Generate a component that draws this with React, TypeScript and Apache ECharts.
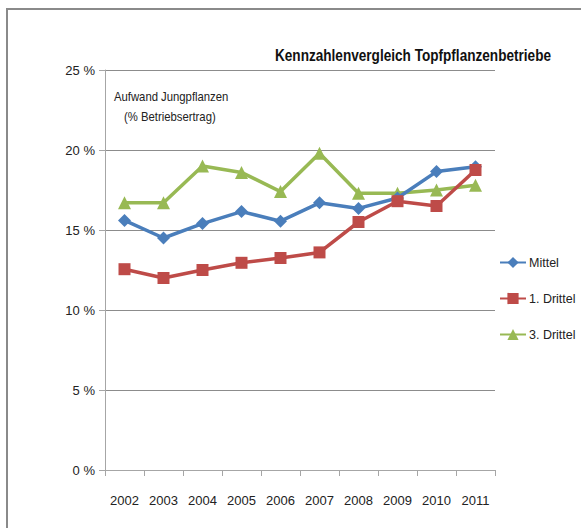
import React, { useEffect, useRef } from "react";
import * as echarts from "echarts";

const years = ["2002", "2003", "2004", "2005", "2006", "2007", "2008", "2009", "2010", "2011"];
const mittel = [15.6, 14.5, 15.4, 16.15, 15.55, 16.7, 16.35, 17.0, 18.65, 18.95];
const ersteDrittel = [12.55, 12.0, 12.5, 12.95, 13.25, 13.6, 15.5, 16.8, 16.5, 18.75];
const dritteDrittel = [16.7, 16.7, 19.0, 18.6, 17.4, 19.8, 17.3, 17.3, 17.5, 17.8];
const seriesNames = ["Mittel", "1. Drittel", "3. Drittel"];
const titleText = "Kennzahlenvergleich Topfpflanzenbetriebe";
const noteLines = ["Aufwand Jungpflanzen", "(% Betriebsertrag)"];

const FONT = "'Liberation Sans', Arial, sans-serif";

export default function App() {
  const ref = useRef<HTMLDivElement>(null);
  useEffect(() => {
    if (!ref.current) return;
    const chart = echarts.init(ref.current, null, { renderer: "svg" });
    chart.setOption({
      animation: false,
      backgroundColor: "#ffffff",
      textStyle: { fontFamily: FONT },
      grid: { left: 105, right: 86, top: 70, bottom: 58, containLabel: false },
      legend: {
        orient: "vertical",
        left: 494,
        top: 251,
        itemGap: 23,
        itemWidth: 26,
        itemHeight: 14,
        data: seriesNames,
        textStyle: { fontFamily: FONT, fontSize: 12.5, color: "#222", padding: [0, 0, 0, -2] },
      },
      xAxis: {
        type: "category",
        data: years,
        boundaryGap: true,
        axisLine: { lineStyle: { color: "#a6a6a6", width: 1 } },
        axisTick: { show: true, alignWithLabel: false, interval: 0, length: 6, lineStyle: { color: "#a6a6a6" } },
        axisLabel: { fontFamily: FONT, fontSize: 13, color: "#222", margin: 24, interval: 0 },
      },
      yAxis: {
        type: "value",
        min: 0,
        max: 25,
        interval: 5,
        axisLine: { show: true, lineStyle: { color: "#a6a6a6", width: 1 } },
        axisTick: { show: true, length: 6, lineStyle: { color: "#a6a6a6" } },
        axisLabel: { fontFamily: FONT, fontSize: 13, color: "#222", margin: 10, formatter: "{value} %" },
        splitLine: { show: true, lineStyle: { color: "#8c8c8c", width: 1 } },
      },
      graphic: [
        {
          type: "polyline",
          shape: { points: [[7, 540], [7, 9], [600, 9]] },
          style: { stroke: "#8a8a8a", lineWidth: 2, fill: "none" },
          z: 10,
        },
        {
          type: "text",
          x: 275,
          y: 55,
          scaleX: 0.8,
          style: {
            text: titleText,
            fontFamily: FONT,
            fontSize: 17,
            fontWeight: "bold",
            fill: "#111",
            textAlign: "left",
            textVerticalAlign: "middle",
          },
        },
        {
          type: "text",
          x: 114,
          y: 97,
          scaleX: 0.87,
          style: { text: noteLines[0], fontFamily: FONT, fontSize: 13, fill: "#222", textAlign: "left", textVerticalAlign: "middle" },
        },
        {
          type: "text",
          x: 124,
          y: 117,
          scaleX: 0.87,
          style: { text: noteLines[1], fontFamily: FONT, fontSize: 13, fill: "#222", textAlign: "left", textVerticalAlign: "middle" },
        },
      ],
      series: [
        {
          name: seriesNames[0],
          type: "line",
          data: mittel,
          color: "#4A7EBB",
          symbol: "diamond",
          symbolSize: 13,
          lineStyle: { width: 3.5 },
          z: 3,
        },
        {
          name: seriesNames[1],
          type: "line",
          data: ersteDrittel,
          color: "#BE4B48",
          symbol: "rect",
          symbolSize: 12,
          lineStyle: { width: 3.5 },
          z: 4,
        },
        {
          name: seriesNames[2],
          type: "line",
          data: dritteDrittel,
          color: "#98B954",
          symbol: "triangle",
          symbolSize: 13,
          lineStyle: { width: 3.5 },
          z: 2,
        },
      ],
    });
    return () => chart.dispose();
  }, []);
  return (
    <div
      ref={ref}
      style={{ position: "fixed", left: 0, top: 0, width: 581, height: 528, background: "#fff" }}
    />
  );
}
